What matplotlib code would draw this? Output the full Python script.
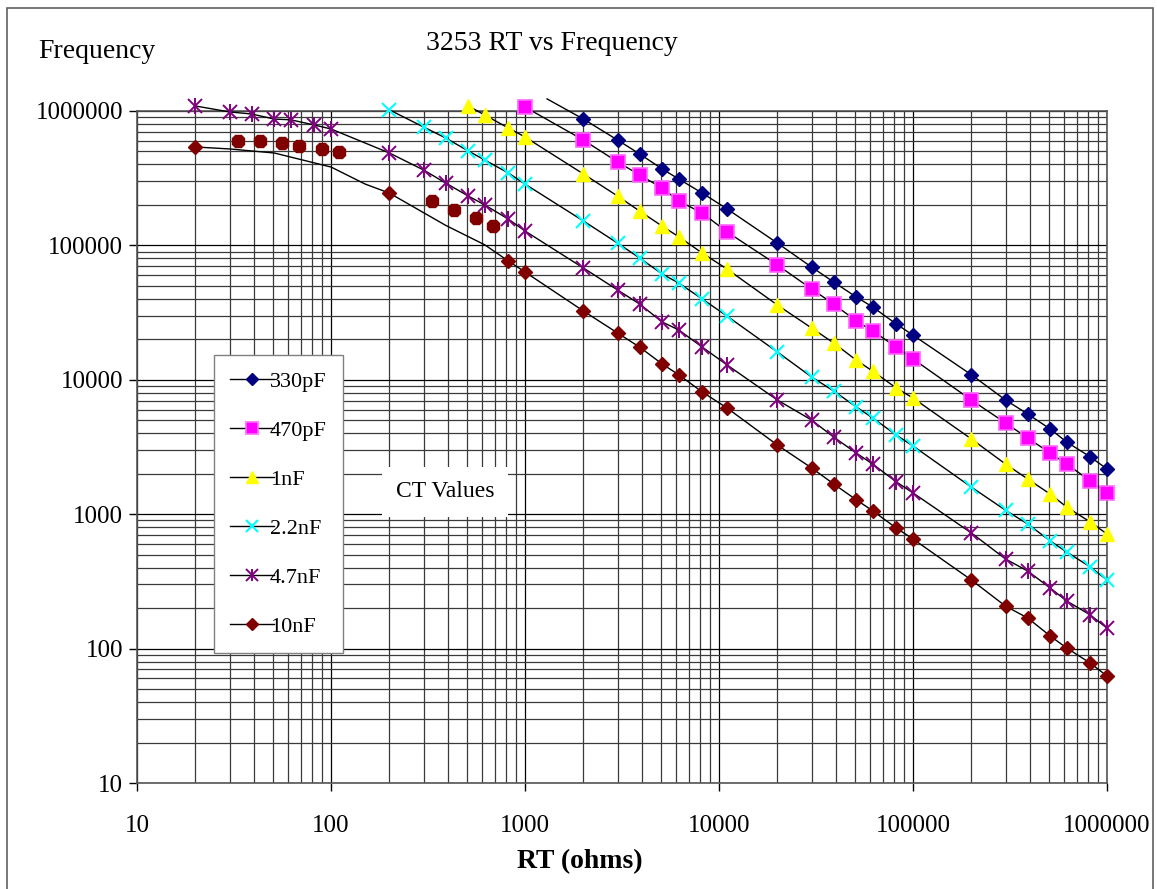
import matplotlib.pyplot as plt
import matplotlib.ticker as mticker
from matplotlib.lines import Line2D
from matplotlib.patches import Rectangle

# RT values (ohms) shared by the upper part of every curve
rt_hi = [2000, 3000, 3900, 5100, 6200, 8200, 11000, 20000, 30000, 39000, 51000,
         62000, 82000, 100000, 200000, 300000, 390000, 510000, 620000, 820000, 1000000]

# 330pF
x_330p = rt_hi
f_330p = [871e3, 608e3, 479e3, 370e3, 312e3, 245e3, 187e3, 104e3, 69e3, 53.4e3, 41.3e3,
          34.8e3, 26.0e3, 21.5e3, 10.9e3, 7.07e3, 5.57e3, 4.30e3, 3.44e3, 2.67e3, 2.17e3]
line_330p_x = [1300] + x_330p
line_330p_f = [1.23e6] + f_330p

# 470pF
x_470p = [1000] + rt_hi
f_470p = [1.07e6, 608e3, 418e3, 334e3, 267e3, 214e3, 174e3, 126e3, 71.5e3, 47.4e3, 36.6e3,
          27.4e3, 23.1e3, 17.5e3, 14.3e3, 7.07e3, 4.77e3, 3.69e3, 2.85e3, 2.36e3, 1.77e3, 1.44e3]

# 1nF
x_1n = [510, 620, 820, 1000] + rt_hi
f_1n = [1.09e6, 934e3, 748e3, 641e3, 340e3, 233e3, 180e3, 139e3, 116e3, 87.7e3, 66.7e3,
        36.0e3, 24.3e3, 18.8e3, 14.0e3, 11.6e3, 8.69e3, 7.32e3, 3.63e3, 2.36e3, 1.83e3,
        1.41e3, 1.13e3, 875, 712]

# 2.2nF
x_2n2 = [200, 300, 390, 510, 620, 820, 1000] + rt_hi
f_2n2 = [1.02e6, 760e3, 630e3, 504e3, 432e3, 346e3, 286e3, 152e3, 104e3, 80.5e3, 61.2e3,
         52.5e3, 39.9e3, 29.8e3, 16.1e3, 10.5e3, 8.26e3, 6.28e3, 5.20e3, 3.88e3, 3.22e3,
         1.59e3, 1.07e3, 846, 632, 523, 405, 324]

# 4.7nF
x_4n7 = [20, 30, 39, 51, 62, 82, 100, 200, 300, 390, 510, 620, 820, 1000] + rt_hi
f_4n7 = [1.09e6, 984e3, 950e3, 871e3, 860e3, 787e3, 735e3, 487e3, 364e3, 291e3, 233e3,
         200e3, 157e3, 128e3, 67.9e3, 46.6e3, 36.6e3, 26.9e3, 23.5e3, 17.5e3, 12.9e3,
         7.07e3, 5.02e3, 3.75e3, 2.85e3, 2.36e3, 1.74e3, 1.44e3, 725, 464, 378, 282,
         226, 178, 142]

# 10nF
x_10n = [20, 200, 820, 1000] + rt_hi
f_10n = [540e3, 245e3, 76.6e3, 63.4e3, 32.5e3, 22.3e3, 17.5e3, 13.1e3, 10.9e3, 8.11e3,
         6.17e3, 3.27e3, 2.21e3, 1.68e3, 1.28e3, 1.06e3, 789, 654, 324, 207, 169, 124,
         101, 78, 62.5]
# 10nF points drawn as round markers, off the curve
x_10n_rnd = [33, 43, 56, 68, 90, 110, 330, 430, 560, 680]
f_10n_rnd = [598e3, 598e3, 578e3, 549e3, 522e3, 495e3, 214e3, 183e3, 160e3, 139e3]
line_10n_x = [20, 30, 51, 100, 150, 200, 390, 620] + x_10n[2:]
line_10n_f = [540e3, 522e3, 487e3, 383e3, 286e3, 245e3, 141e3, 101e3] + f_10n[2:]

labels = ['330pF', '470pF', '1nF', '2.2nF', '4.7nF', '10nF']
decades = [10, 100, 1000, 10000, 100000, 1000000]

plt.rcParams['font.family'] = ['Liberation Serif', 'DejaVu Serif']

W, H = 1157, 889
fig = plt.figure(figsize=(W / 100, H / 100), dpi=100)
ax = fig.add_axes([137 / W, 1 - 783 / H, 970 / W, 672 / H])
ax.set_xscale('log')
ax.set_yscale('log')
ax.set_xlim(10, 1e6)
ax.set_ylim(10, 1e6)

ax.grid(True, which='major', color='black', lw=0.9)
ax.grid(True, which='minor', color='#3a3a3a', lw=0.9)
ax.set_axisbelow(True)
for s in ax.spines.values():
    s.set_color('#555555')
    s.set_linewidth(1.2)

ax.xaxis.set_major_locator(mticker.FixedLocator(decades))
ax.yaxis.set_major_locator(mticker.FixedLocator(decades))
fmt = mticker.FuncFormatter(lambda v, p: f'{int(round(v))}')
ax.xaxis.set_major_formatter(fmt)
ax.yaxis.set_major_formatter(fmt)
ax.xaxis.set_minor_formatter(mticker.NullFormatter())
ax.yaxis.set_minor_formatter(mticker.NullFormatter())
ax.tick_params(which='major', direction='out', length=6, width=1, labelsize=18)
ax.tick_params(axis='x', which='major', pad=17)
ax.tick_params(axis='y', which='major', pad=4)
ax.tick_params(which='minor', length=0)

# curves
line_kw = dict(color='black', lw=1.0, clip_on=False, zorder=3)
ax.plot(line_330p_x, line_330p_f, **line_kw)
ax.plot(x_470p, f_470p, **line_kw)
ax.plot(x_1n, f_1n, **line_kw)
ax.plot(x_2n2, f_2n2, **line_kw)
ax.plot(x_4n7, f_4n7, **line_kw)
ax.plot(line_10n_x, line_10n_f, **line_kw)

# markers
styles = [
    dict(marker='D', ms=7.5, mfc='#000080', mec='#000080', mew=1),
    dict(marker='s', ms=9.5, mfc='#FF00FF', mec='#FF66FF', mew=1.2),
    dict(marker='^', ms=10, mfc='#FFFF00', mec='#FFFF00', mew=1),
    dict(marker='x', ms=10, mfc='#00FFFF', mec='#00FFFF', mew=1.5),
    dict(marker='x', ms=10, mfc='#800080', mec='#800080', mew=1.4),
    dict(marker='D', ms=7.5, mfc='#800000', mec='#800000', mew=1),
]
star_bar = dict(marker='|', ms=11, mec='#800080', mew=1.4)
series = [(x_330p, f_330p), (x_470p, f_470p), (x_1n, f_1n),
          (x_2n2, f_2n2), (x_4n7, f_4n7), (x_10n, f_10n)]
for (xs, fs), st in zip(series, styles):
    ax.plot(xs, fs, ls='none', clip_on=False, zorder=4, **st)
ax.plot(x_4n7, f_4n7, ls='none', clip_on=False, zorder=4, **star_bar)
ax.plot(x_10n_rnd, f_10n_rnd, ls='none', marker='8', ms=10, mfc='#800000',
        mec='#800000', clip_on=False, zorder=4)

handles = [Line2D([], [], color='black', lw=1.0, **st) for st in styles]
handles[4] = (handles[4], Line2D([], [], ls='none', **star_bar))
leg = ax.legend(handles, labels, loc='upper left',
                bbox_to_anchor=(214 / W, 1 - 355 / H), bbox_transform=fig.transFigure,
                borderaxespad=0, fontsize=16, markerscale=0.85, handlelength=2.0,
                handletextpad=-0.2, labelspacing=1.28, borderpad=0.72,
                fancybox=False, framealpha=1, edgecolor='#808080')
leg.get_frame().set_linewidth(1.0)
leg.set_zorder(6)

fig.text(445 / W, 1 - 492 / H, 'CT Values', fontsize=17, ha='center', va='center',
         bbox=dict(boxstyle='square,pad=0.6', fc='white', ec='none'), zorder=7)

fig.text(552 / W, 1 - 44 / H, '3253 RT vs Frequency', fontsize=20, ha='center', va='center')
fig.text(38 / W, 1 - 52 / H, 'Frequency', fontsize=20, ha='left', va='center')
fig.text(580 / W, 1 - 862 / H, 'RT (ohms)', fontsize=20, fontweight='bold',
         ha='center', va='center')

# outer chart border
fig.patches.append(Rectangle((7 / W, -0.02), 1146 / W, 1 - 8 / H + 0.02, fill=False,
                             edgecolor='#606060', lw=1.2, transform=fig.transFigure))

fig.savefig('out.png', dpi=100)
